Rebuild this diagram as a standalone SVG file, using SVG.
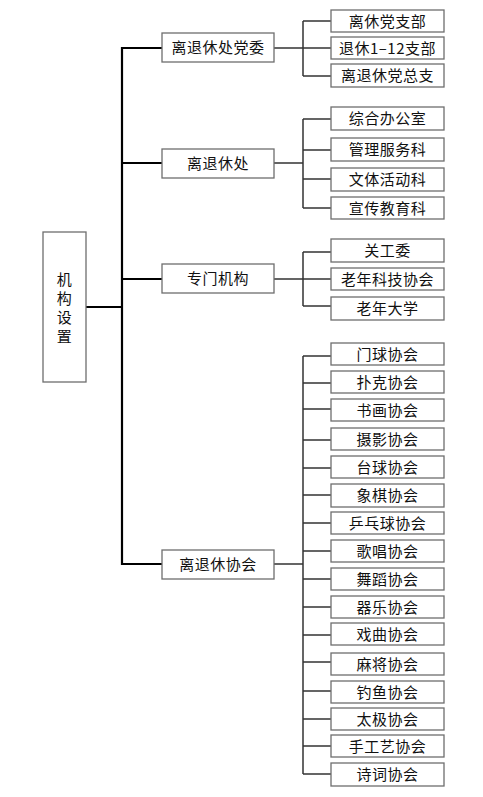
<svg xmlns="http://www.w3.org/2000/svg" width="483" height="797" viewBox="0 0 483 797">
<style>
.b{fill:#fff;stroke:#6e6e6e;stroke-width:1.3}
.t{font-family:"Noto Sans CJK SC","Noto Sans",sans-serif;font-size:15px;fill:#111;text-anchor:middle;letter-spacing:0.5px}
.m{fill:none;stroke:#000;stroke-width:2.2}
.s{fill:none;stroke:#333;stroke-width:1.5}
</style>
<rect width="483" height="797" fill="#fff"/>
<g id="connectors">
<path class="m" d="M86 307H122M122 47V565M122 48H162M122 163H162M122 279H162M122 564H162"/>
<path class="s" d="M274 48H303M303 21V76M303 21H331M303 48H331M303 76H331"/>
<path class="s" d="M274 163H303M303 119V208M303 119H331M303 150H331M303 179H331M303 208H331"/>
<path class="s" d="M274 279H303M303 252V306M303 252H331M303 279H331M303 306H331"/>
<path class="s" d="M274 564H303M303 356V774M303 356H331M303 383H331M303 409H331M303 440H331M303 468H331M303 495H331M303 523H331M303 551H331M303 579H331M303 607H331M303 635H331M303 662H331M303 691H331M303 719H331M303 746H331M303 774H331"/>
</g>
<g id="root"><rect class="b" x="43" y="232" width="43" height="150"/>
<text class="t" x="64.5" y="285">机</text><text class="t" x="64.5" y="304">构</text><text class="t" x="64.5" y="323">设</text><text class="t" x="64.5" y="342">置</text></g>
<g id="n1"><rect class="b" x="162" y="33" width="112" height="29"/><text class="t" x="218" y="53">离退休处党委</text></g>
<g id="n2"><rect class="b" x="162" y="149" width="112" height="29"/><text class="t" x="218" y="169">离退休处</text></g>
<g id="n3"><rect class="b" x="162" y="264" width="112" height="29"/><text class="t" x="218" y="284">专门机构</text></g>
<g id="n4"><rect class="b" x="162" y="550" width="112" height="29"/><text class="t" x="218" y="570">离退休协会</text></g>
<g id="c1"><rect class="b" x="331" y="10" width="113" height="22"/><text class="t" x="387.5" y="26.5">离休党支部</text></g>
<g id="c2"><rect class="b" x="331" y="37" width="113" height="22"/><text class="t" x="387.5" y="53.5">退休1–12支部</text></g>
<g id="c3"><rect class="b" x="331" y="64" width="113" height="23"/><text class="t" x="387.5" y="81">离退休党总支</text></g>
<g id="c4"><rect class="b" x="331" y="107" width="113" height="23"/><text class="t" x="387.5" y="124">综合办公室</text></g>
<g id="c5"><rect class="b" x="331" y="138" width="113" height="23"/><text class="t" x="387.5" y="155">管理服务科</text></g>
<g id="c6"><rect class="b" x="331" y="168" width="113" height="23"/><text class="t" x="387.5" y="185">文体活动科</text></g>
<g id="c7"><rect class="b" x="331" y="197" width="113" height="22"/><text class="t" x="387.5" y="213.5">宣传教育科</text></g>
<g id="c8"><rect class="b" x="331" y="239" width="113" height="23"/><text class="t" x="387.5" y="256">关工委</text></g>
<g id="c9"><rect class="b" x="331" y="268" width="113" height="22"/><text class="t" x="387.5" y="284.5">老年科技协会</text></g>
<g id="c10"><rect class="b" x="331" y="297" width="113" height="23"/><text class="t" x="387.5" y="314">老年大学</text></g>
<g id="c11"><rect class="b" x="331" y="343" width="113" height="22"/><text class="t" x="387.5" y="359.5">门球协会</text></g>
<g id="c12"><rect class="b" x="331" y="371" width="113" height="22"/><text class="t" x="387.5" y="387.5">扑克协会</text></g>
<g id="c13"><rect class="b" x="331" y="399" width="113" height="22"/><text class="t" x="387.5" y="415.5">书画协会</text></g>
<g id="c14"><rect class="b" x="331" y="428" width="113" height="22"/><text class="t" x="387.5" y="444.5">摄影协会</text></g>
<g id="c15"><rect class="b" x="331" y="456" width="113" height="22"/><text class="t" x="387.5" y="472.5">台球协会</text></g>
<g id="c16"><rect class="b" x="331" y="484" width="113" height="23"/><text class="t" x="387.5" y="501">象棋协会</text></g>
<g id="c17"><rect class="b" x="331" y="512" width="113" height="22"/><text class="t" x="387.5" y="528.5">乒乓球协会</text></g>
<g id="c18"><rect class="b" x="331" y="540" width="113" height="22"/><text class="t" x="387.5" y="556.5">歌唱协会</text></g>
<g id="c19"><rect class="b" x="331" y="568" width="113" height="22"/><text class="t" x="387.5" y="584.5">舞蹈协会</text></g>
<g id="c20"><rect class="b" x="331" y="596" width="113" height="22"/><text class="t" x="387.5" y="612.5">器乐协会</text></g>
<g id="c21"><rect class="b" x="331" y="623" width="113" height="22"/><text class="t" x="387.5" y="639.5">戏曲协会</text></g>
<g id="c22"><rect class="b" x="331" y="653" width="113" height="22"/><text class="t" x="387.5" y="669.5">麻将协会</text></g>
<g id="c23"><rect class="b" x="331" y="681" width="113" height="22"/><text class="t" x="387.5" y="697.5">钓鱼协会</text></g>
<g id="c24"><rect class="b" x="331" y="708" width="113" height="22"/><text class="t" x="387.5" y="724.5">太极协会</text></g>
<g id="c25"><rect class="b" x="331" y="735" width="113" height="22"/><text class="t" x="387.5" y="751.5">手工艺协会</text></g>
<g id="c26"><rect class="b" x="331" y="763" width="113" height="23"/><text class="t" x="387.5" y="780">诗词协会</text></g>
</svg>
